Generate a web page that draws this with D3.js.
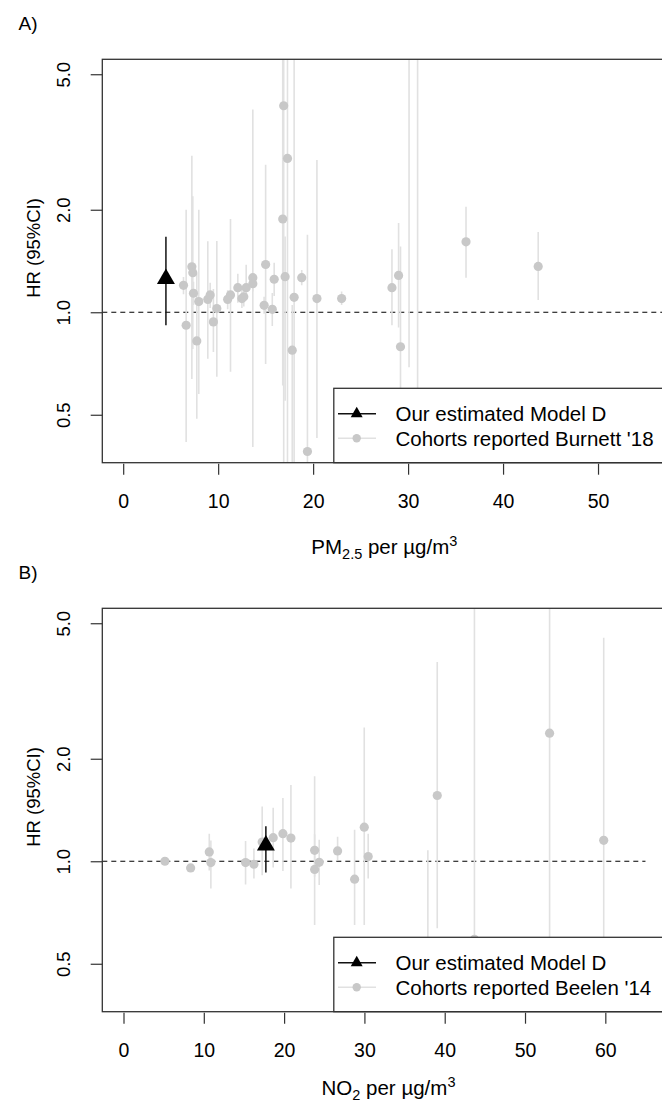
<!DOCTYPE html>
<html>
<head>
<meta charset="utf-8">
<script src="https://cdn.jsdelivr.net/npm/d3@7"></script>
<style>
body { margin: 0; background: #fff; }
text { font-family: "Liberation Sans", Arial, sans-serif; fill: #000; }
</style>
</head>
<body>
<svg id="chart"></svg>
<script>
// Panel A: PM2.5 cohorts (Burnett '18) - exposure, HR, lower CI, upper CI
const pmX  = [6.35, 6.63, 7.23, 7.33, 7.40, 7.96, 7.75, 8.91, 9.16, 9.86, 9.50, 11.0, 11.3, 12.07, 12.5, 12.7, 12.95, 13.65, 13.65, 15.0,
              14.84, 15.7, 15.9, 16.8, 16.9, 17.3, 17.05, 18.0, 17.8, 18.8, 19.4, 20.4, 23.0, 28.3, 29.0, 29.2, 30.1, 31.0, 36.1, 43.7];
const pmHR = [1.20, 0.916, 1.36, 1.306, 1.137, 1.075, 0.824, 1.091, 1.124, 1.025, 0.937, 1.091, 1.124, 1.181, 1.097, 1.11, 1.181, 1.263, 1.213, 1.381,
              1.048, 1.02, 1.25, 1.879, 4.04, 2.83, 1.272, 1.106, 0.774, 1.263, 0.39, 1.097, 1.097, 1.181, 1.283, 0.792, 5.9, 0.5, 1.61, 1.363];
const pmLo = [1.13, 0.416, 0.637, 0.78, 1.05, 0.575, 0.487, 0.73, 1.03, 0.647, 0.764, 1.02, 0.669, 1.067, 1.03, 1.04, 1.116, 0.402, 1.15, 0.705,
              0.99, 0.912, 1.116, 0.609, 0.30, 0.25, 0.55, 0.2, 0.35, 1.2, 0.3, 0.427, 1.05, 0.916, 0.902, 0.3, 0.689, 0.1, 1.263, 1.086];
const pmHi = [1.27, 2.00, 2.88, 2.19, 1.23, 2.00, 1.30, 1.616, 1.22, 1.62, 1.17, 1.16, 1.88, 1.298, 1.17, 1.19, 1.378, 3.94, 1.28, 2.71,
              1.11, 1.14, 1.397, 12, 40, 30, 1.67, 20, 1.05, 1.33, 1.69, 2.80, 1.15, 1.53, 1.83, 1.56, 20, 20, 2.04, 1.72];
const pmModel = [4.5, 1.254, 0.916, 1.665]; // x, HR, lower, upper
const pmTicks = [0, 10, 20, 30, 40, 50];

// Panel B: NO2 cohorts (Beelen '14)
const no2X  = [5.16, 8.36, 10.68, 10.88, 15.2, 16.24, 17.27, 18.64, 19.85, 20.85, 23.8, 23.8, 24.37, 26.66, 28.78, 29.98, 30.47, 37.9, 39.07, 43.7, 53.06, 59.8];
const no2HR = [1.00, 0.956, 1.065, 0.991, 0.991, 0.98, 1.139, 1.173, 1.205, 1.17, 1.077, 0.946, 0.993, 1.072, 0.886, 1.259, 1.032, 0.45, 1.56, 0.59, 2.378, 1.152];
const no2Lo = [0.98, 0.93, 0.94, 0.832, 0.855, 0.89, 0.91, 0.958, 0.937, 0.832, 0.9, 0.65, 0.851, 1.007, 0.65, 0.65, 0.89, 0.2, 0.636, 0.05, 0.4, 0.3];
const no2Hi = [1.02, 0.975, 1.205, 1.15, 1.147, 1.09, 1.448, 1.435, 1.535, 1.676, 1.776, 1.2, 1.157, 1.18, 1.238, 2.47, 1.205, 1.077, 3.85, 8, 10, 4.53];
const no2Model = [17.73, 1.114, 0.927, 1.266];
const no2Ticks = [0, 10, 20, 30, 40, 50, 60];

const yTicks = [0.5, 1, 2, 5];
const yLim = [0.4, 5];

const width = 662, height = 1104;
const boxLeft = 102.3, boxH = 403.4;
const yFont = 18.5, xFont = 19.5, titleFont = 20.5, legendFont = 20.5;
const ptFill = '#c8c8c8', ciCol = '#e1e1e1', boxCol = '#333';

const svg = d3.select('#chart').attr('width', width).attr('height', height);
svg.append('rect').attr('width', width).attr('height', height).attr('fill', '#fff');

// R-style 4% extension on log axis
const logExt = ([a, b]) => {
  const la = Math.log10(a), lb = Math.log10(b), e = 0.04 * (lb - la);
  return [10 ** (la - e), 10 ** (lb + e)];
};

const drawPanel = (p, idx) => {
  const top = p.top, bottom = top + boxH;
  const x = d3.scaleLinear().domain(p.xDomain).range([boxLeft, p.boxRight]);
  const y = d3.scaleLog().domain(logExt(yLim)).range([bottom, top]);
  const g = svg.append('g');

  const clipId = 'clip' + idx;
  svg.append('clipPath').attr('id', clipId)
    .append('rect').attr('x', boxLeft).attr('y', top).attr('width', p.boxRight - boxLeft).attr('height', boxH);
  const plot = g.append('g').attr('clip-path', `url(#${clipId})`);

  const idxs = d3.range(p.xs.length);

  // reference line at HR = 1
  plot.append('line')
    .attr('x1', boxLeft).attr('x2', p.dashEnd == null ? p.boxRight : x(p.dashEnd))
    .attr('y1', y(1)).attr('y2', y(1))
    .attr('stroke', '#000').attr('stroke-width', 1.1).attr('stroke-dasharray', '5,4');

  plot.selectAll('line.ci').data(idxs).enter().append('line')
    .attr('class', 'ci')
    .attr('x1', i => x(p.xs[i])).attr('x2', i => x(p.xs[i]))
    .attr('y1', i => y(p.lo[i])).attr('y2', i => y(p.hi[i]))
    .attr('stroke', ciCol).attr('stroke-width', 1.6);

  plot.selectAll('circle.pt').data(idxs).enter().append('circle')
    .attr('class', 'pt')
    .attr('cx', i => x(p.xs[i])).attr('cy', i => y(p.hr[i]))
    .attr('r', 4.6).attr('fill', ptFill);

  const [mx, mhr, mlo, mhi] = p.model;
  plot.append('line')
    .attr('x1', x(mx)).attr('x2', x(mx)).attr('y1', y(mlo)).attr('y2', y(mhi))
    .attr('stroke', '#111').attr('stroke-width', 1.5);
  plot.append('path')
    .attr('d', d3.symbol(d3.symbolTriangle, 140)())
    .attr('transform', `translate(${x(mx)},${y(mhr)})`)
    .attr('fill', '#000');

  // legend
  const lg = g.append('g');
  const lgTop = bottom - 74.4;
  lg.append('rect').attr('x', 333.8).attr('y', lgTop).attr('width', 400).attr('height', bottom - lgTop)
    .attr('fill', '#fff').attr('stroke', boxCol).attr('stroke-width', 1.3);
  const rows = [bottom - 49, bottom - 24.4];
  lg.append('line').attr('x1', 338).attr('x2', 376).attr('y1', rows[0]).attr('y2', rows[0])
    .attr('stroke', '#111').attr('stroke-width', 1.4);
  lg.append('path').attr('d', d3.symbol(d3.symbolTriangle, 62)())
    .attr('transform', `translate(356.7,${rows[0]})`).attr('fill', '#000');
  lg.append('line').attr('x1', 338).attr('x2', 376).attr('y1', rows[1]).attr('y2', rows[1])
    .attr('stroke', ciCol).attr('stroke-width', 1.6);
  lg.append('circle').attr('cx', 356.7).attr('cy', rows[1]).attr('r', 4.2).attr('fill', ptFill);
  ['Our estimated Model D', p.legendLabel].forEach((t, k) => {
    lg.append('text').attr('x', 395.5).attr('y', rows[k] + 0.36 * legendFont)
      .attr('font-size', legendFont).text(t);
  });

  // box
  g.append('rect').attr('x', boxLeft).attr('y', top).attr('width', p.boxRight - boxLeft).attr('height', boxH)
    .attr('fill', 'none').attr('stroke', boxCol).attr('stroke-width', 1.3);

  // y axis
  const ya = g.append('g').attr('transform', `translate(${boxLeft},0)`)
    .call(d3.axisLeft(y).tickValues(yTicks).tickFormat(d3.format('.1f')).tickSize(11.6).tickSizeOuter(0));
  ya.select('.domain').remove();
  ya.selectAll('line').attr('stroke', boxCol).attr('stroke-width', 1.2);
  ya.selectAll('text')
    .attr('x', null).attr('dy', '0.36em')
    .attr('text-anchor', 'middle')
    .attr('transform', 'translate(-39.3,0) rotate(-90)')
    .attr('font-size', yFont).attr('font-family', null);

  // x axis
  const xa = g.append('g').attr('transform', `translate(0,${bottom + 1})`)
    .call(d3.axisBottom(x).tickValues(p.ticks).tickSize(11).tickPadding(19).tickSizeOuter(0));
  xa.select('.domain').remove();
  xa.selectAll('line').attr('stroke', boxCol).attr('stroke-width', 1.2);
  xa.selectAll('text').attr('font-size', xFont).attr('font-family', null);

  // axis titles
  g.append('text')
    .attr('transform', `translate(33,${(top + bottom) / 2 - 13}) rotate(-90)`)
    .attr('dy', '0.36em').attr('text-anchor', 'middle').attr('font-size', yFont)
    .text('HR (95%CI)');

  const xt = g.append('text')
    .attr('x', (boxLeft + p.boxRight) / 2).attr('y', bottom + p.xlabGap + 0.36 * titleFont)
    .attr('text-anchor', 'middle').attr('font-size', titleFont);
  xt.append('tspan').text(p.xlab[0]);
  xt.append('tspan').attr('dy', 5).attr('font-size', 14.5).text(p.xlab[1]);
  xt.append('tspan').attr('dy', -5).text(' per \u00b5g/m');
  xt.append('tspan').attr('dy', -8).attr('font-size', 14.5).text('3');

  g.append('text').attr('x', 28).attr('y', top - 36 + 0.36 * 19)
    .attr('text-anchor', 'middle').attr('font-size', 19).text(p.title);
};

drawPanel({
  top: 59.3, xDomain: [-2.2, 57.2], boxRight: 666.4, ticks: pmTicks,
  xs: pmX, hr: pmHR, lo: pmLo, hi: pmHi, model: pmModel, dashEnd: null, xlabGap: 84,
  legendLabel: "Cohorts reported Burnett '18", xlab: ['PM', '2.5'], title: 'A)'
}, 0);

drawPanel({
  top: 608.3, xDomain: [-2.64, 68.64], boxRight: 674.7, ticks: no2Ticks,
  xs: no2X, hr: no2HR, lo: no2Lo, hi: no2Hi, model: no2Model, dashEnd: 65, xlabGap: 76,
  legendLabel: "Cohorts reported Beelen '14", xlab: ['NO', '2'], title: 'B)'
}, 1);
</script>
</body>
</html>
